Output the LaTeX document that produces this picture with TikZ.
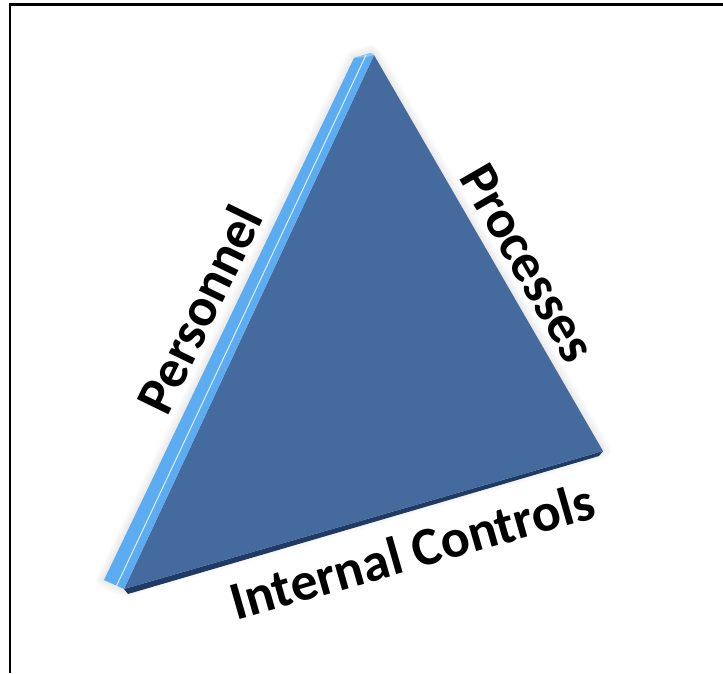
\documentclass[tikz,border=0pt]{standalone}
\usepackage{fontspec}
\setmainfont{Carlito}
\definecolor{faceblue}{HTML}{446A9E}
\definecolor{stripblue}{HTML}{5CACF2}
\definecolor{stripcap}{HTML}{8CC6F8}
\definecolor{edgenavy}{HTML}{1F3B63}
\tikzset{
  label/.style={font=\fontsize{54}{62}\selectfont\bfseries, text=black, inner sep=0pt},
  frameline/.style={line width=2.6pt, black},
  glow/.style={draw=black, line join=round, opacity=0.02}
}
\begin{document}
\begin{tikzpicture}[x=1pt,y=-1pt]
\useasboundingbox (0,0) rectangle (723,673);
\fill[white] (0,0) rectangle (723,673);
% frame (top and left lines only)
\coordinate (fa) at (723,4.5);
\coordinate (fb) at (10,4.5);
\coordinate (fc) at (10,673);
\draw[frameline] (fa) -- (fb) -- (fc);
% triangle corners
\coordinate (T) at (374,55);
\coordinate (R) at (603,451);
\coordinate (L) at (124,589);
\coordinate (So) at (104,580);
\coordinate (St) at (354,58);
\coordinate (Sc) at (371,53);
% soft shadow
\foreach \w in {4,8,12,16}
  \draw[glow, line width=\w pt] (So) -- (St) -- (Sc) -- (T) -- (R) -- (L) -- cycle;
% dark bottom edge
\fill[edgenavy] (L) -- (R) -- (599,456) -- (128,594) -- cycle;
% front face
\fill[faceblue] (T) -- (R) -- (L) -- cycle;
% light strip
\fill[stripblue] (So) -- (St) -- (Sc) -- (T) -- (L) -- cycle;
\fill[stripcap] (St) -- (Sc) -- (T) -- (366,57) -- cycle;
\coordinate (wa) at (116,587);
\coordinate (wb) at (366,55);
\draw[white, line width=1pt, opacity=0.8] (wa) -- (wb);
% labels
\node[label, rotate=64] (personnel) at (199,309) {Personnel};
\node[label, rotate=-60] (processes) at (528,263) {Processes};
\node[label, rotate=16] (internal) at (412,551) {Internal Controls};
\end{tikzpicture}
\end{document}
